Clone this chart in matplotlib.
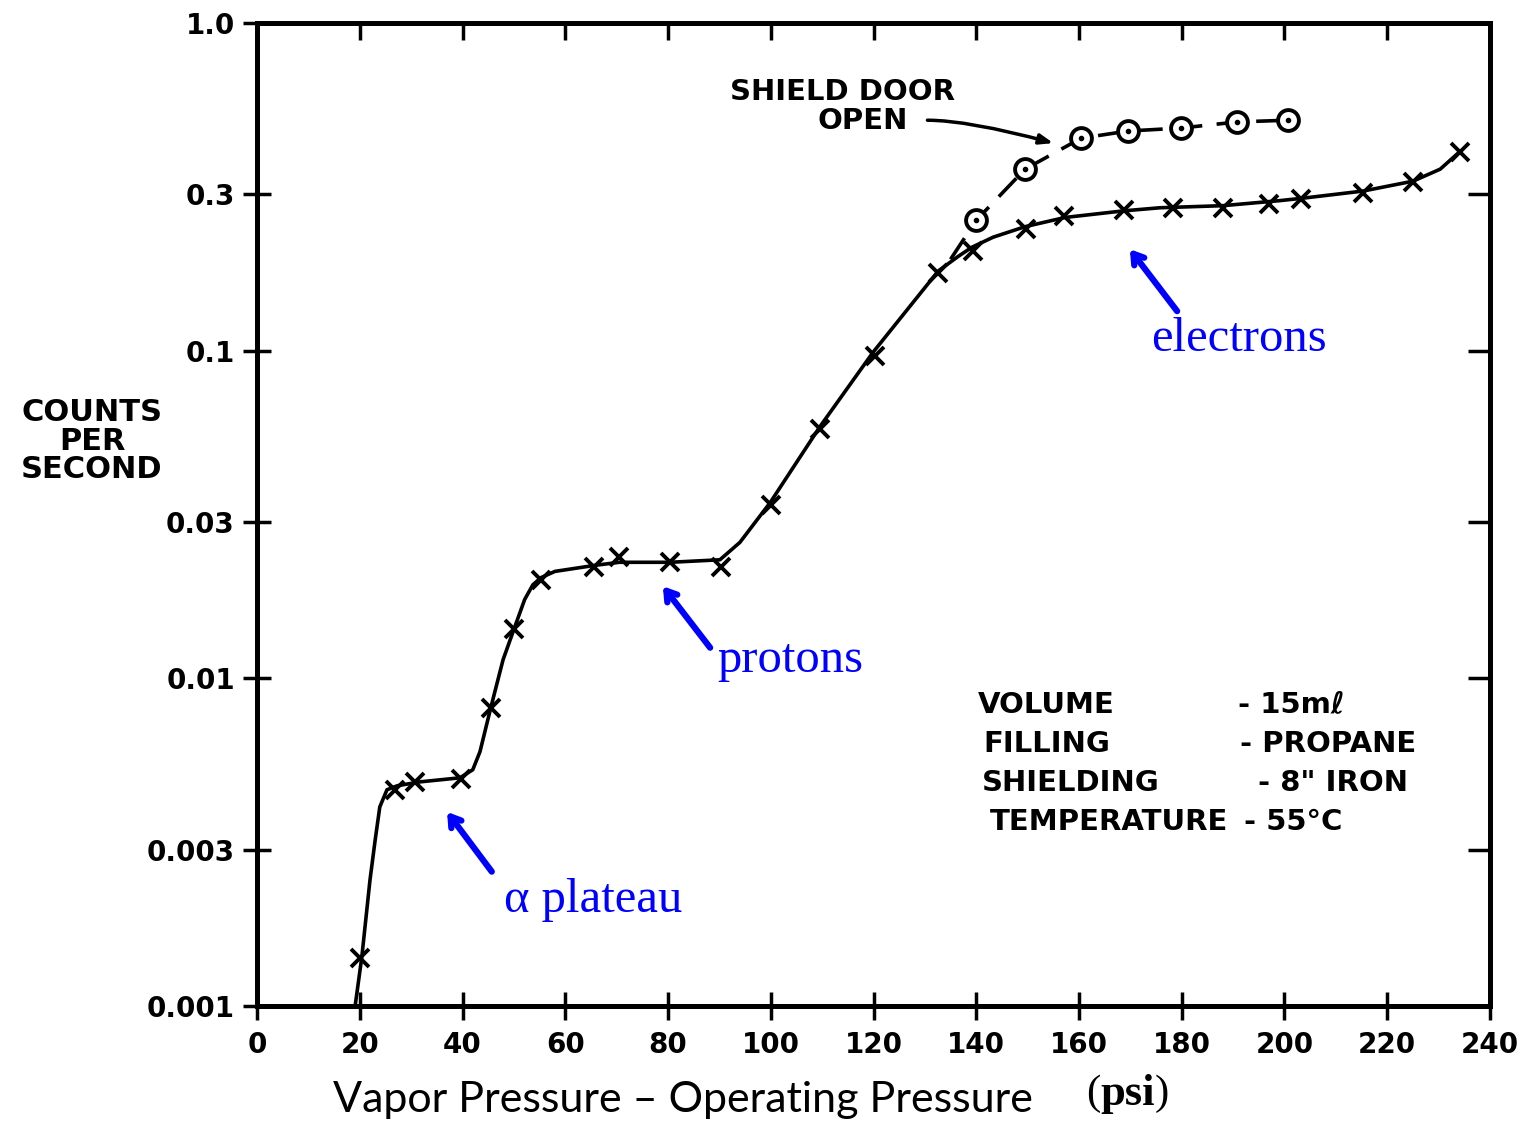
import numpy as np
import matplotlib.pyplot as plt

# smooth curve drawn through the counting-rate points (shield door closed)
curve_x = [19.1, 20.4, 22.0, 23.0, 23.9, 25.3, 27.3, 31.7, 39.5, 42.0, 43.4, 45.5,
           47.9, 50.0, 52.1, 53.7, 55.3, 58.0, 65.6, 70.5, 80.4, 90.1, 94.0, 99.9,
           109.6, 119.9, 132.6, 136.5, 139.2, 143.3, 149.5, 157.3, 168.6, 175.8, 188.0,
           199.1, 203.6, 215.3, 225.0, 230.3, 234.2]
curve_y = [0.0010, 0.00141, 0.00243, 0.00321, 0.00405, 0.00457, 0.00470, 0.00483,
           0.00497, 0.00526, 0.00597, 0.00813, 0.0114, 0.0141, 0.0174, 0.0193,
           0.0203, 0.0212, 0.0221, 0.0226, 0.0226, 0.0230, 0.0260, 0.0344, 0.0587,
           0.0988, 0.175, 0.194, 0.207, 0.222, 0.239, 0.255, 0.267, 0.273, 0.277, 0.287,
           0.292, 0.307, 0.329, 0.358, 0.406]

# measured points (x)
pts_x = [20.0, 26.9, 30.8, 39.7, 45.5, 50.0, 55.3, 65.6, 70.5, 80.4, 90.3, 100.0,
         109.6, 120.3, 132.6, 139.4, 149.7, 157.1, 168.8, 178.3, 188.0, 197.0,
         203.2, 215.3, 225.0, 234.2]
pts_y = [0.0014, 0.00457, 0.00483, 0.00493, 0.00813, 0.0141, 0.0200, 0.0219,
         0.0235, 0.0226, 0.0218, 0.0339, 0.0575, 0.0961, 0.172, 0.202, 0.235,
         0.257, 0.268, 0.272, 0.272, 0.280, 0.290, 0.303, 0.327, 0.403]

# shield door open (circles), dashed branch starts on the main curve
door_x = [140.0, 149.5, 160.4, 169.5, 179.9, 190.8, 200.7]
door_y = [0.250, 0.358, 0.445, 0.468, 0.478, 0.499, 0.505]
branch_x = [135.0] + door_x
branch_y = [0.19] + door_y

y_ticks = [0.001, 0.003, 0.01, 0.03, 0.1, 0.3, 1.0]
y_labels = ['0.001', '0.003', '0.01', '0.03', '0.1', '0.3', '1.0']
x_ticks = list(range(0, 241, 20))

W, H = 1523, 1124
def fpos(px, py):
    return px / W, 1 - py / H

hand = dict(family='DejaVu Sans', fontweight='bold', color='black')

fig = plt.figure(figsize=(W / 100, H / 100), dpi=100)
ax = fig.add_axes([0.16875, 0.1050, 0.80958, 0.87454])

ax.plot(curve_x, curve_y, color='black', lw=2.6, solid_capstyle='round', zorder=3)
ax.plot(pts_x, pts_y, 'x', color='black', ms=13, mew=2.8, zorder=4)
ax.plot(branch_x, branch_y, color='black', lw=2.6, dashes=(7, 4), zorder=3)
ax.plot(door_x, door_y, 'o', mfc='white', mec='black', ms=15, mew=2.8, zorder=5)
ax.plot(door_x, door_y, '.', color='black', ms=6, zorder=6)

ax.set_yscale('log')
ax.set_xlim(0, 240)
ax.set_ylim(0.001, 1.0)
ax.set_yticks(y_ticks)
ax.set_yticklabels(y_labels)
ax.yaxis.set_minor_locator(plt.NullLocator())
ax.set_xticks(x_ticks)
ax.set_xticklabels([str(v) for v in x_ticks])
for s in ax.spines.values():
    s.set_linewidth(3.6)
ax.tick_params(axis='both', direction='inout', length=20, width=2.5, pad=8,
               labelsize=20)
ax.tick_params(axis='y', pad=6)
for lab in ax.get_xticklabels() + ax.get_yticklabels():
    lab.set_fontweight('bold')

# inward ticks on the top and right edges
top = ax.twiny()
top.set_xlim(0, 240)
top.set_xticks(x_ticks)
top.tick_params(axis='x', direction='in', length=12, width=2.5, labeltop=False)
right = ax.twinx()
right.set_yscale('log')
right.set_ylim(0.001, 1.0)
right.set_yticks(y_ticks)
right.yaxis.set_minor_locator(plt.NullLocator())
right.tick_params(axis='y', direction='in', length=16, width=2.5, labelright=False)
for a in (top, right):
    for s in a.spines.values():
        s.set_linewidth(3.6)

fig.text(*fpos(92, 441), 'COUNTS\nPER\nSECOND', ha='center', va='center',
         fontsize=22, linespacing=0.98, **hand)

# shield door note
fig.text(*fpos(842, 92), 'SHIELD DOOR', ha='center', va='center', fontsize=21, **hand)
fig.text(*fpos(863, 121), 'OPEN', ha='center', va='center', fontsize=21, **hand)
ax.annotate('', xy=(155.0, 0.43), xytext=(130.5, 0.505),
            arrowprops=dict(arrowstyle='-|>,head_length=0.8,head_width=0.3',
                            lw=2.5, color='black', shrinkA=0, shrinkB=0,
                            connectionstyle='angle3,angleA=0,angleB=-15'))

# run conditions
info = [('VOLUME', '- 15m\u2113', 705, 978, 1238),
        ('FILLING', '- PROPANE', 744, 983, 1240),
        ('SHIELDING', '- 8" IRON', 783, 982, 1258),
        ('TEMPERATURE', '- 55\u00b0C', 822, 990, 1244)]
for name, val, py, x0, x1 in info:
    fig.text(*fpos(x0, py), name, ha='left', va='center', fontsize=21, **hand)
    fig.text(*fpos(x1, py), val, ha='left', va='center', fontsize=21, **hand)

# blue labels with arrows
blue = '#0000ff'
arrows = [((169.9, 0.204), (179.1, 0.132)),
          ((79.0, 0.0191), (88.2, 0.0124)),
          ((37.0, 0.00391), (45.7, 0.00257))]
for head, tail in arrows:
    ax.annotate('', xy=head, xytext=tail,
                arrowprops=dict(arrowstyle='->,head_length=0.7,head_width=0.45',
                                lw=4.5, color=blue, shrinkA=0, shrinkB=0))
ax.text(191.1, 0.1083, 'electrons', ha='center', va='center', color=blue,
        family='Liberation Serif', fontsize=35)
ax.text(103.7, 0.0114, 'protons', ha='center', va='center', color=blue,
        family='Liberation Serif', fontsize=35)
ax.text(65.4, 0.00211, '\u03b1 plateau', ha='center', va='center', color=blue,
        family='Liberation Serif', fontsize=35)

# x-axis title
fig.text(*fpos(333, 1100), 'Vapor Pressure \u2013 Operating Pressure', ha='left',
         va='center', family='Lato', fontsize=31)
fig.canvas.draw()
r = fig.canvas.get_renderer()
t1 = fig.text(*fpos(1086, 1094), '(', ha='left', va='center',
              family='Liberation Serif', fontsize=31)
x_next = t1.get_window_extent(r).x1
t2 = fig.text(x_next / W, 1 - 1094 / H, 'psi', ha='left', va='center',
              family='Liberation Serif', fontweight='bold', fontsize=32)
x_next = t2.get_window_extent(r).x1
fig.text(x_next / W, 1 - 1094 / H, ')', ha='left', va='center',
         family='Liberation Serif', fontsize=31)

fig.savefig('out.png', dpi=100)
